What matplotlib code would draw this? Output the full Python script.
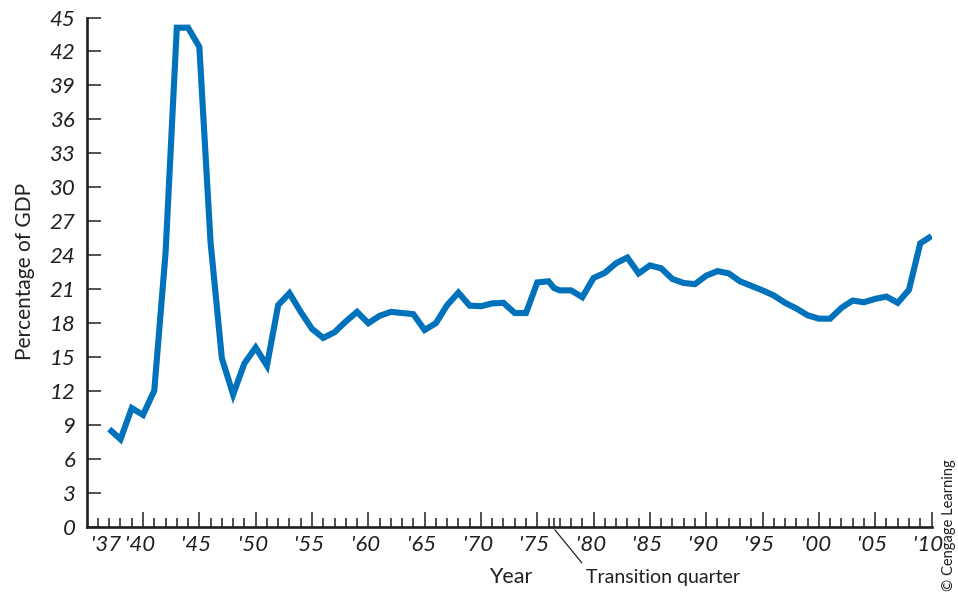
import matplotlib
matplotlib.use("Agg")
import matplotlib.pyplot as plt
from matplotlib.lines import Line2D
import matplotlib.transforms as mtransforms

# ---- data ----
years = [1937, 1938, 1939, 1940, 1941, 1942, 1943, 1944, 1945, 1946, 1947, 1948, 1949,
         1950, 1951, 1952, 1953, 1954, 1955, 1956, 1957, 1958, 1959, 1960, 1961, 1962,
         1963, 1964, 1965, 1966, 1967, 1968, 1969, 1970, 1971, 1972, 1973, 1974, 1975,
         1976, 1976.5, 1977, 1978, 1979, 1980, 1981, 1982, 1983, 1984, 1985, 1986, 1987,
         1988, 1989, 1990, 1991, 1992, 1993, 1994, 1995, 1996, 1997, 1998, 1999, 2000,
         2001, 2002, 2003, 2004, 2005, 2006, 2007, 2008, 2009, 2010]
outlays = [8.65, 7.75, 10.5, 9.9, 12.05, 24.2, 44.1, 44.1, 42.4, 25.1, 14.9, 11.7, 14.45,
           15.85, 14.25, 19.6, 20.65, 19.0, 17.5, 16.7, 17.2, 18.15, 19.0, 18.0, 18.65, 19.0,
           18.9, 18.8, 17.4, 18.0, 19.6, 20.7, 19.55, 19.5, 19.75, 19.8, 18.9, 18.9, 21.6,
           21.7, 21.1, 20.9, 20.9, 20.3, 22.0, 22.45, 23.3, 23.8, 22.4, 23.1, 22.85, 21.9,
           21.55, 21.45, 22.2, 22.6, 22.4, 21.7, 21.3, 20.9, 20.45, 19.8, 19.3, 18.7, 18.4,
           18.4, 19.35, 20.0, 19.85, 20.15, 20.35, 19.8, 20.95, 25.05, 25.7]

y_ticks = list(range(0, 46, 3))
x_major = list(range(1940, 2011, 5))
x_major_labels = ["'40", "'45", "'50", "'55", "'60", "'65", "'70", "'75", "'80",
                  "'85", "'90", "'95", "'00", "'05", "'10"]
x_minor = sorted([y for y in range(1936, 2010) if y % 5 != 0] + [1976.5])
first_label_year = 1937
first_label = "'37"

ink = "#231f20"
blue = "#0071bb"
font = "Lato"

fig = plt.figure(figsize=(9.58, 5.92), dpi=100)
ax = fig.add_axes([86.7 / 958, (592 - 527) / 592, (931.5 - 86.7) / 958, (527 - 17.5) / 592])

ax.plot(years, outlays, color=blue, lw=4.4, solid_joinstyle="miter",
        solid_capstyle="butt", zorder=3)

ax.set_xlim(1935, 2010)
ax.set_ylim(0, 45)

for s in ["top", "right"]:
    ax.spines[s].set_visible(False)
for s in ["left", "bottom"]:
    ax.spines[s].set_linewidth(1.9)
    ax.spines[s].set_color(ink)

ax.set_yticks(y_ticks)
ax.set_yticklabels([str(v) for v in y_ticks], fontstyle="italic", fontsize=16,
                   family=font, color=ink)
ax.tick_params(axis="y", direction="in", length=10, width=1.1, color=ink, pad=8)

ax.set_xticks(x_major)
ax.set_xticklabels(x_major_labels, fontstyle="italic", fontsize=16, family=font, color=ink)
ax.set_xticks(x_minor, minor=True)
ax.set_xticklabels([first_label if v == first_label_year else "" for v in x_minor],
                   minor=True, fontstyle="italic", fontsize=16, family=font, color=ink)
ax.tick_params(axis="x", which="major", direction="in", length=10.8, width=1.1,
               color=ink, pad=6)
ax.tick_params(axis="x", which="minor", direction="in", length=6.5, width=1.1,
               color=ink, pad=6)

shift = mtransforms.ScaledTranslation(-3 / 100, 0, fig.dpi_scale_trans)
for lab in ax.get_xticklabels() + ax.get_xticklabels(minor=True):
    lab.set_transform(lab.get_transform() + shift)

# labels
fig.text(25 / 958, (592 - 271) / 592, "Percentage of GDP", rotation=90,
         ha="center", va="center", fontsize=15, family=font, color=ink)
fig.text(511 / 958, (592 - 577) / 592, "Year", ha="center", va="center",
         fontsize=15.5, family=font, color=ink)
fig.text(586 / 958, (592 - 577) / 592, "Transition quarter", ha="left", va="center",
         fontsize=14, family=font, color=ink)
fig.add_artist(Line2D([555 / 958, 581.7 / 958], [(592 - 530) / 592, (592 - 562.7) / 592],
                      transform=fig.transFigure, color=ink, lw=0.9))
fig.text(949 / 958, 1 / 592, "\u00a9 Cengage Learning", rotation=90, ha="center",
         va="bottom", fontsize=10.5, family=font, color=ink)

fig.savefig("out.png", dpi=100)
